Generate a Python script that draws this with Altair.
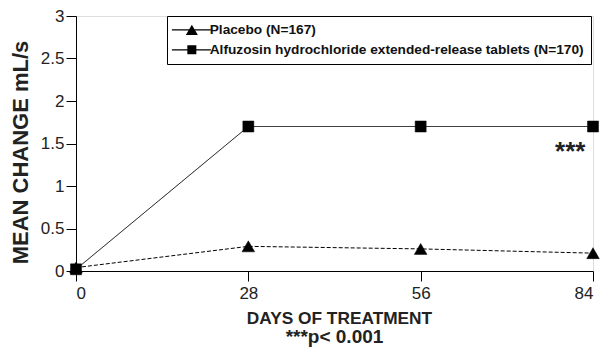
import altair as alt
import pandas as pd

days = [0, 28, 56, 84]
placebo = [0.04, 0.29, 0.26, 0.21]
alfuzosin = [0.02, 1.70, 1.70, 1.70]
series_names = ["Alfuzosin hydrochloride extended-release tablets (N=170)", "Placebo (N=167)"]
legend_order = ["Placebo (N=167)", "Alfuzosin hydrochloride extended-release tablets (N=170)"]
y_ticks = [0, 0.5, 1, 1.5, 2, 2.5, 3]
x_ticks = [0, 28, 56, 84]
sig_day = [80.3]
sig_val = [1.46]
sig_text = ["***"]

rows = []
for d, v in zip(days, alfuzosin):
    rows.append({"day": d, "value": v, "series": series_names[0]})
for d, v in zip(days, placebo):
    rows.append({"day": d, "value": v, "series": series_names[1]})
df = pd.DataFrame(rows)
sig_df = pd.DataFrame({"day": sig_day, "value": sig_val, "label": sig_text})

FONT = "Liberation Sans"

x_enc = alt.X("day:Q", scale=alt.Scale(domain=[0, 84], nice=False, zero=False),
              axis=alt.Axis(values=x_ticks, title="DAYS OF TREATMENT",
                            grid=False, tickSize=10, labelPadding=4, labelFontSize=17,
                            labelFont=FONT, labelColor="#222", titleFont=FONT,
                            titleFontSize=17.3, titleFontWeight="bold", titleColor="#222",
                            titleX=263, titleY=52, titleBaseline="alphabetic",
                            domainColor="black", tickColor="black"))
y_enc = alt.Y("value:Q", scale=alt.Scale(domain=[0, 3], nice=False),
              axis=alt.Axis(values=y_ticks, format="~g", title="MEAN CHANGE mL/s",
                            grid=False, tickSize=10, labelPadding=2, labelFontSize=17,
                            labelFont=FONT, labelColor="#222", titleFont=FONT,
                            titleFontSize=22, titleFontWeight="bold", titleColor="#222",
                            titleAngle=270, titleX=-49, titleY=136,
                            titleBaseline="alphabetic", titleAlign="center",
                            domainColor="black", tickColor="black"))

lines = alt.Chart(df).mark_line(color="black", strokeWidth=1).encode(
    x=x_enc, y=y_enc,
    detail="series:N",
    strokeDash=alt.StrokeDash("series:N", scale=alt.Scale(domain=series_names, range=[[1, 0], [4, 2]]), legend=None),
)

points = alt.Chart(df).mark_point(filled=True, color="black", opacity=1, stroke="black", strokeWidth=0.5).encode(
    x="day:Q", y="value:Q",
    shape=alt.Shape("series:N", scale=alt.Scale(domain=series_names, range=["square", "triangle-up"]), legend=None),
    size=alt.Size("series:N", scale=alt.Scale(domain=series_names, range=[121, 160]), legend=None),
)

# legend glyphs: a thin line with the marker on it (unit path scaled by sqrt(size)/2 = 6px)
tri_path = "M-3.33,-0.09H3.17V0.09H-3.33Z M-1,0.87L0,-0.87L1,0.87Z"
sq_path = "M-3.33,-0.09H3.17V0.09H-3.33Z M-0.75,-0.75H0.75V0.75H-0.75Z"

legend_layer = alt.Chart(df).transform_filter("false").mark_point(filled=True, color="black", opacity=1, size=144).encode(
    x="day:Q", y="value:Q",
    shape=alt.Shape("series:N", scale=alt.Scale(domain=legend_order, range=[tri_path, sq_path]),
                    legend=alt.Legend(title=None, orient="none", legendX=91, legendY=0,
                                      strokeColor="black", fillColor="white", padding=7,
                                      rowPadding=5, symbolSize=144, symbolOffset=11,
                                      labelOffset=11, labelFont=FONT, labelFontSize=13.7,
                                      labelFontWeight="bold", labelColor="#111",
                                      labelLimit=1000, symbolFillColor="black",
                                      symbolStrokeColor="black", symbolStrokeWidth=0,
                                      symbolOpacity=1, cornerRadius=0)),
)

sig = alt.Chart(sig_df).mark_text(font=FONT, fontSize=26, fontWeight="bold", color="#222",
                                  align="center", baseline="middle", dy=5).encode(
    x="day:Q", y="value:Q", text="label:N")

chart = alt.layer(lines, points, legend_layer, sig).resolve_scale(
    shape="independent", size="independent"
).properties(
    width=517, height=255, autosize="none",
    padding={"left": 76, "top": 16, "right": 19, "bottom": 84},
    title=alt.TitleParams("***p< 0.001", orient="bottom", anchor="middle", font=FONT,
                          fontSize=19, fontWeight="bold", color="#222", offset=2),
).configure_view(stroke="black", strokeWidth=1).configure(background="white")

chart.save("out.html", embed_options={"renderer": "svg", "actions": False})
